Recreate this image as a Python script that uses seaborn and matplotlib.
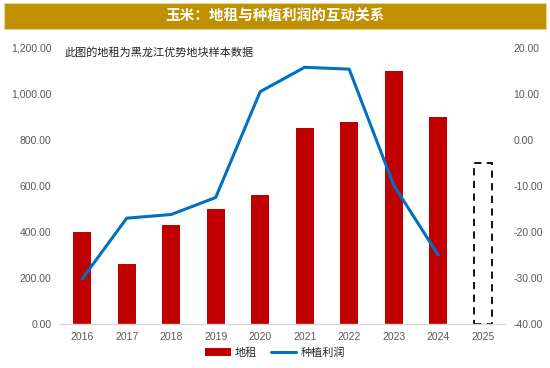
import numpy as np
import pandas as pd
import matplotlib
matplotlib.use("Agg")
import matplotlib.pyplot as plt
from matplotlib.patches import Rectangle
from matplotlib.lines import Line2D
from matplotlib.ticker import FuncFormatter, MultipleLocator
import seaborn as sns

years = ["2016", "2017", "2018", "2019", "2020", "2021", "2022", "2023", "2024", "2025"]
rent = [400, 260, 430, 500, 560, 850, 880, 1100, 900, 700]
rent_estimated = [False] * 9 + [True]
profit_years = ["2016", "2017", "2018", "2019", "2020", "2021", "2022", "2023", "2024"]
profit = [-30.2, -17.0, -16.2, -12.5, 10.5, 15.8, 15.4, -9.8, -25.0]

title = "玉米：地租与种植利润的互动关系"
note = "此图的地租为黑龙江优势地块样本数据"
legend_labels = ["地租", "种植利润"]

sns.set_theme(style="white")
plt.rcParams["font.family"] = ["Noto Sans CJK SC", "DejaVu Sans"]

BAR_C = "#C00000"
LINE_C = "#0070C0"
TICK_C = "#595959"

fig = plt.figure(figsize=(5.5, 3.68), dpi=100)
ax = fig.add_axes([0.109, 0.1196, 0.809, 0.75])

df = pd.DataFrame({"year": years, "rent": rent})
sns.barplot(data=df, x="year", y="rent", color=BAR_C, width=0.4, ax=ax, saturation=1)
for p, est in zip(ax.patches, rent_estimated):
    if est:
        p.set_facecolor("none")
        p.set_edgecolor("black")
        p.set_linestyle((0, (4, 3)))
        p.set_linewidth(1.3)
    else:
        p.set_edgecolor("none")

ax.set_ylim(0, 1200)
ax.yaxis.set_major_locator(MultipleLocator(200))
ax.yaxis.set_major_formatter(FuncFormatter(lambda v, _: f"{v:,.2f}"))
ax.set_xlim(-0.5, len(years) - 0.5)
ax.set_xlabel("")
ax.set_ylabel("")

ax2 = ax.twinx()
pos = [years.index(y) for y in profit_years]
sns.lineplot(x=pos, y=profit, color=LINE_C, linewidth=2.2, ax=ax2)
ax2.set_ylim(-40, 20)
ax2.yaxis.set_major_locator(MultipleLocator(10))
ax2.yaxis.set_major_formatter(FuncFormatter(lambda v, _: f"{v:.2f}"))
ax2.set_xlim(-0.5, len(years) - 0.5)

for a in (ax, ax2):
    for s in a.spines.values():
        s.set_visible(False)
    a.tick_params(axis="y", length=0, labelsize=7.5, labelcolor=TICK_C, pad=6)
    a.grid(False)
ax.spines["bottom"].set_visible(True)
ax.spines["bottom"].set_color("#D9D9D9")
ax.spines["bottom"].set_linewidth(1)
ax.set_xticks(range(len(years)))
ax.set_xticklabels(years)
ax.tick_params(axis="x", length=0, labelsize=7.5, labelcolor=TICK_C, pad=6)
ax.set_xticks(np.arange(-0.5, len(years), 1.0), minor=True)
ax.tick_params(axis="x", which="minor", length=4, color="#D9D9D9", width=1)
for lbl in ax.get_xticklabels() + ax.get_yticklabels() + ax2.get_yticklabels():
    lbl.set_family(["Liberation Sans", "DejaVu Sans"])

ax.text(0.01, 0.985, note, transform=ax.transAxes, fontsize=8, color="#222222",
        va="center", ha="left")

# Title banner
fig.patches.append(Rectangle((4 / 550, 1 - 29 / 368), 542 / 550, 26 / 368,
                             transform=fig.transFigure, facecolor="#BF9000",
                             edgecolor="#E6D39A", linewidth=0.8, zorder=0))
fig.text(0.5, 1 - 16 / 368, title, ha="center", va="center", color="white",
         fontsize=10.5, fontweight="bold")

handles = [Rectangle((0, 0), 1, 1, facecolor=BAR_C, edgecolor="none"),
           Line2D([0], [0], color=LINE_C, linewidth=2.2)]
fig.legend(handles, legend_labels, loc="center", bbox_to_anchor=(0.5, 1 - 353 / 368),
           ncol=2, frameon=False, fontsize=8, handlelength=2.3, columnspacing=1.2,
           handletextpad=0.4)

fig.savefig("out.png", dpi=100)
